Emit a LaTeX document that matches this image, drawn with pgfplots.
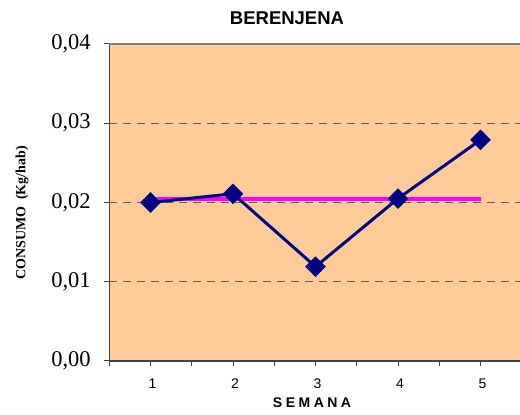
\documentclass[border=0pt]{standalone}
\usepackage{fontspec}
\setmainfont{Liberation Serif}
\newfontfamily\arial{Liberation Sans}
\usepackage{pgfplots}
\pgfplotsset{compat=1.18}
\definecolor{peach}{RGB}{255,204,153}
\definecolor{navyc}{RGB}{0,0,128}
\definecolor{magc}{RGB}{255,0,255}
\definecolor{gridc}{RGB}{110,90,70}
\definecolor{axc}{RGB}{64,64,64}
\begin{document}
\begin{tikzpicture}[x=1pt,y=1pt]
\useasboundingbox (0,0) rectangle (520,415);
\begin{axis}[
  at={(109.25pt,54pt)}, anchor=south west,
  scale only axis, width=412.5pt, height=317pt,
  xmin=0.5, xmax=5.5, ymin=0, ymax=0.04,
  axis y line*=left, axis x line*=bottom,
  axis line style={axc, line width=1.4pt},
  axis background/.style={fill=peach},
  xtick={1,2,3,4,5}, minor xtick={0.5,1.5,2.5,3.5,4.5},
  ytick={0,0.01,0.02,0.03,0.04},
  tick align=outside, major tick length=5pt, minor tick length=5pt,
  tick style={axc, line width=1pt},
  grid=none,
  scaled y ticks=false,
  /pgf/number format/assume math mode=true,
  yticklabel={\pgfmathprintnumber[fixed,fixed zerofill,precision=2,use comma]{\tick}},
  yticklabel style={font=\fontsize{22.5}{25}\selectfont, xshift=-10pt},
  xticklabel={\arial\pgfmathprintnumber{\tick}},
  xticklabel style={font=\arial\fontsize{14}{16}\selectfont, yshift=-9pt, xshift=2pt},
  clip=false,
]
\draw[gridc, line width=1.3pt, dash pattern=on 8pt off 6pt] (axis cs:0.5,0.01) -- (axis cs:5.5,0.01);
\draw[gridc, line width=1.3pt, dash pattern=on 8pt off 6pt] (axis cs:0.5,0.02) -- (axis cs:5.5,0.02);
\draw[gridc, line width=1.3pt, dash pattern=on 8pt off 6pt] (axis cs:0.5,0.03) -- (axis cs:5.5,0.03);
\draw[gray, line width=1.4pt] (rel axis cs:0,1) -- (rel axis cs:1,1);
\addplot[magc, line width=4pt, no marks] coordinates {(1,0.0204) (5,0.0204)};
\addplot[navyc, line width=3pt, mark=square*, mark size=7pt, mark options={rotate=45, fill=navyc, draw=navyc, line width=0.5pt}]
  coordinates {(1,0.0200) (2,0.0211) (3,0.0119) (4,0.0205) (5,0.0279)};
\end{axis}
\node[font=\arial\bfseries\fontsize{18.5}{20}\selectfont] at (287,397) {BERENJENA};
\node[font=\arial\bfseries\fontsize{14}{16}\selectfont\addfontfeature{LetterSpace=25}] at (312,12) {SEMANA};
\node[rotate=90, font=\bfseries\fontsize{14}{16}\selectfont] at (22,202) {CONSUMO\ \ (Kg/hab)};
\end{tikzpicture}
\end{document}
